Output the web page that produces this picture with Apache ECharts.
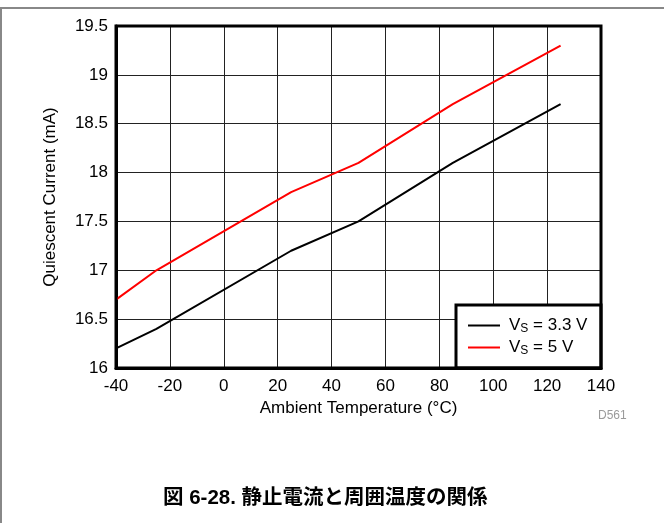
<!DOCTYPE html>
<html>
<head>
<meta charset="utf-8">
<script src="https://cdn.jsdelivr.net/npm/echarts@6/dist/echarts.min.js"></script>
<style>
html,body{margin:0;padding:0;background:#fff;}
#c{width:664px;height:523px;}
</style>
</head>
<body>
<div id="c"></div>
<script>
var temps = [-40, -25, 25, 50, 85, 125];
var vs33 = [16.2, 16.4, 17.2, 17.5, 18.1, 18.7];
var vs5 = [16.7, 17.0, 17.8, 18.1, 18.7, 19.3];
var seriesNames = ['VS = 3.3 V', 'VS = 5 V'];
var legendLabels = {
  'VS = 3.3 V': '{v|V}{s|S}{a| = 3.3 V}',
  'VS = 5 V': '{v|V}{s|S}{a| = 5 V}'
};
var xTicks = {min: -40, max: 140, interval: 20};
var yTicks = {min: 16, max: 19.5, interval: 0.5};
var titleText = '図 6-28. 静止電流と周囲温度の関係';
var xName = 'Ambient Temperature (°C)';
var yName = 'Quiescent Current (mA)';
var figId = 'D561';

function pairs(xs, ys){ return xs.map(function(x,i){ return [x, ys[i]]; }); }

var chart = echarts.init(document.getElementById('c'), null, {renderer:'canvas'});
var font = 'Liberation Sans, Arial, Helvetica, sans-serif';
chart.setOption({
  animation: false,
  backgroundColor: '#fff',
  textStyle: {fontFamily: font},
  grid: {left: 116, right: 63, top: 26, bottom: 155, show: true, borderColor: '#000', borderWidth: 3, backgroundColor: 'transparent', z: 5},
  xAxis: {
    type: 'value', min: xTicks.min, max: xTicks.max, interval: xTicks.interval,
    name: xName, nameLocation: 'middle', nameGap: 32,
    nameTextStyle: {fontSize: 17, color: '#000', fontFamily: font},
    axisLine: {show: true, onZero: false, lineStyle: {color: '#000', width: 3}},
    axisTick: {show: false},
    axisLabel: {fontSize: 17, color: '#000', margin: 10, fontFamily: font},
    splitLine: {show: true, lineStyle: {color: '#222', width: 1}}
  },
  yAxis: {
    type: 'value', min: yTicks.min, max: yTicks.max, interval: yTicks.interval,
    name: yName, nameLocation: 'middle', nameGap: 57, nameRotate: 90,
    nameTextStyle: {fontSize: 17, color: '#000', fontFamily: font},
    axisLine: {show: true, onZero: false, lineStyle: {color: '#000', width: 3}},
    axisTick: {show: false},
    axisLabel: {fontSize: 17, color: '#000', margin: 8, fontFamily: font},
    splitLine: {show: true, lineStyle: {color: '#222', width: 1}}
  },
  legend: {
    orient: 'vertical', left: 468, top: 317,
    backgroundColor: 'transparent', borderWidth: 0,
    padding: 0, itemGap: 4,
    itemWidth: 32, itemHeight: 18,
    icon: 'path://M0,8 L32,8 L32,10 L0,10 Z',
    data: seriesNames,
    formatter: function(n){ return legendLabels[n]; },
    textStyle: {
      fontFamily: font, color: '#000',
      rich: {
        v: {fontSize: 17, color: '#000', fontFamily: font, padding: [0, 0, 0, 4]},
        a: {fontSize: 17, color: '#000', fontFamily: font},
        s: {fontSize: 12, color: '#000', fontFamily: font, padding: [7, 0, 0, 0]}
      }
    }
  },
  graphic: [
    {type: 'line', shape: {x1: 0, y1: 8, x2: 664, y2: 8}, style: {stroke: '#888', lineWidth: 2}, silent: true},
    {type: 'line', shape: {x1: 1, y1: 8, x2: 1, y2: 523}, style: {stroke: '#888', lineWidth: 2}, silent: true},
    {type: 'rect', z: 3, shape: {x: 456, y: 305, width: 145, height: 63}, style: {fill: '#fff', stroke: '#000', lineWidth: 3}, silent: true},
    {type: 'text', left: 598, top: 410, style: {text: figId, fill: '#9a9a9a', font: '12px ' + font}},
    {type: 'text', left: 163, top: 488, style: {text: titleText, fill: '#000', font: 'bold 20.5px "Liberation Sans", "Noto Sans CJK JP", sans-serif'}}
  ],
  series: [
    {name: seriesNames[0], type: 'line', data: pairs(temps, vs33), symbol: 'none', lineStyle: {color: '#000', width: 2}, itemStyle: {color: '#000'}},
    {name: seriesNames[1], type: 'line', data: pairs(temps, vs5), symbol: 'none', lineStyle: {color: '#ff0000', width: 2}, itemStyle: {color: '#ff0000'}}
  ]
});
</script>
</body>
</html>
